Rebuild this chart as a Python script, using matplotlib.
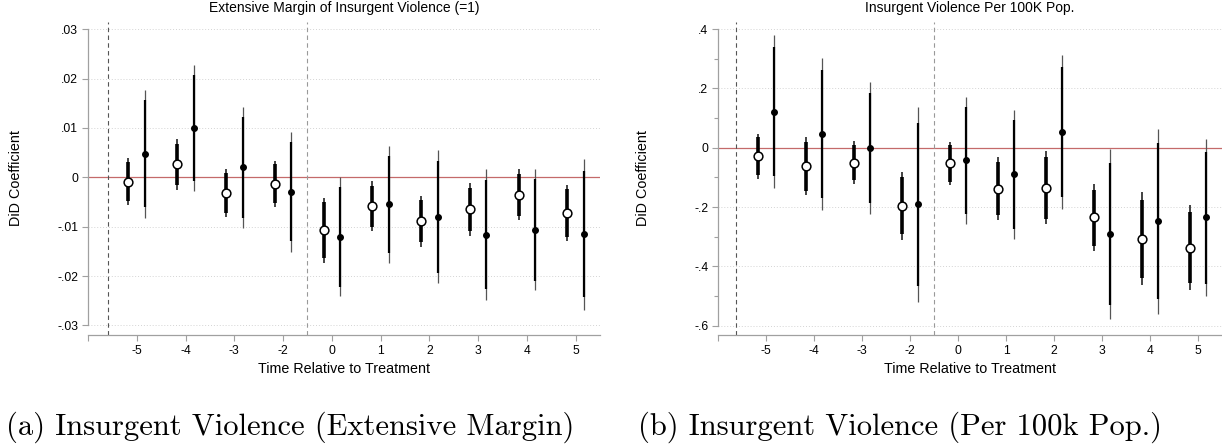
import numpy as np
import matplotlib as mpl
mpl.use('Agg')
import matplotlib.pyplot as plt

plt.rcParams['font.family'] = ['Liberation Sans', 'DejaVu Sans']

cats = ['-5', '-4', '-3', '-2', '0', '1', '2', '3', '4', '5']

# panel (a): extensive margin
a_open_b = [-0.0009, 0.0026, -0.0031, -0.00135, -0.0107, -0.0059, -0.0089, -0.0065, -0.0035, -0.0073]
a_open_hi90 = [0.0030, 0.0068, 0.0009, 0.0026, -0.0051, -0.0017, -0.0046, -0.0021, 0.0007, -0.0024]
a_open_lo90 = [-0.0049, -0.0016, -0.0072, -0.0053, -0.0163, -0.0100, -0.0132, -0.0109, -0.0078, -0.0121]
a_open_hi95 = [0.0039, 0.0077, 0.0017, 0.0033, -0.0041, -0.0007, -0.0037, -0.0011, 0.0016, -0.0016]
a_open_lo95 = [-0.0057, -0.0026, -0.0080, -0.0060, -0.0174, -0.0109, -0.0142, -0.0118, -0.0086, -0.0130]
a_fill_b = [0.0047, 0.0100, 0.0020, -0.0030, -0.0120, -0.0055, -0.0080, -0.0116, -0.0107, -0.0114]
a_fill_hi90 = [0.0156, 0.0207, 0.0122, 0.0072, -0.0019, 0.0044, 0.0034, -0.0005, -0.0003, 0.0013]
a_fill_lo90 = [-0.0061, -0.0007, -0.0083, -0.0130, -0.0222, -0.0154, -0.0193, -0.0227, -0.0210, -0.0242]
a_fill_hi95 = [0.0177, 0.0227, 0.0142, 0.0092, 0.0001, 0.0063, 0.0055, 0.0016, 0.0016, 0.0038]
a_fill_lo95 = [-0.0082, -0.0028, -0.0103, -0.0151, -0.0241, -0.0173, -0.0215, -0.0249, -0.0228, -0.0268]
a_yticks = [-0.03, -0.02, -0.01, 0, 0.01, 0.02, 0.03]
a_ylabels = ['-.03', '-.02', '-.01', '0', '.01', '.02', '.03']

# panel (b): per 100k pop
b_open_b = [-0.029, -0.061, -0.050, -0.195, -0.053, -0.139, -0.136, -0.235, -0.308, -0.337]
b_open_hi90 = [0.035, 0.020, 0.011, -0.098, 0.009, -0.048, -0.030, -0.141, -0.177, -0.216]
b_open_lo90 = [-0.092, -0.145, -0.109, -0.292, -0.115, -0.228, -0.239, -0.331, -0.439, -0.456]
b_open_hi95 = [0.046, 0.037, 0.023, -0.081, 0.020, -0.030, -0.011, -0.122, -0.150, -0.194]
b_open_lo95 = [-0.106, -0.161, -0.122, -0.312, -0.127, -0.245, -0.258, -0.348, -0.464, -0.479]
b_fill_b = [0.122, 0.047, -0.001, -0.190, -0.042, -0.089, 0.053, -0.292, -0.248, -0.235]
b_fill_hi90 = [0.339, 0.263, 0.185, 0.085, 0.139, 0.094, 0.274, -0.051, 0.015, -0.014]
b_fill_lo90 = [-0.095, -0.168, -0.188, -0.465, -0.222, -0.273, -0.166, -0.532, -0.510, -0.459]
b_fill_hi95 = [0.382, 0.304, 0.222, 0.137, 0.172, 0.128, 0.314, -0.005, 0.065, 0.030]
b_fill_lo95 = [-0.137, -0.210, -0.224, -0.519, -0.256, -0.308, -0.208, -0.578, -0.562, -0.501]
b_yticks = [-0.6, -0.4, -0.2, 0, 0.2, 0.4]
b_ylabels = ['-.6', '-.4', '-.2', '0', '.2', '.4']

x = np.arange(1, len(cats) + 1)
off = 0.17
axcol = '#a0a0a0'


def panel(ax, ob, ohi90, olo90, ohi95, olo95, fb, fhi90, flo90, fhi95, flo95,
          yticks, ylabels, ylim, title, vl1, ylab_x, minor=False):
    for yt in yticks:
        ax.axhline(yt, color='#d4d4d4', lw=0.7, ls=(0, (1, 2)), zorder=0)
    ax.axhline(0, color='#c46a6a', lw=0.9, zorder=1)
    ax.axvline(vl1, color='#555555', lw=0.8, ls=(0, (4, 3)), zorder=1)
    ax.axvline(4.5, color='#999999', lw=0.8, ls=(0, (4, 3)), zorder=1)

    xo = x - off
    ax.vlines(xo, olo95, ohi95, color='#222222', lw=1.2, zorder=2)
    ax.vlines(xo, olo90, ohi90, color='black', lw=2.6, zorder=3)
    ax.plot(xo, ob, 'o', ms=6.3, mfc='white', mec='black', mew=1.1, zorder=4)

    xf = x + off
    ax.vlines(xf, flo95, fhi95, color='#555555', lw=0.9, zorder=2)
    ax.vlines(xf, flo90, fhi90, color='black', lw=1.6, zorder=3)
    ax.plot(xf, fb, 'o', ms=4, mfc='black', mec='black', zorder=4)

    ax.set_xlim(0, 10.5)
    ax.set_ylim(*ylim)
    ax.set_xticks([0] + list(x))
    ax.set_xticklabels([''] + cats, fontsize=8.7)
    ax.set_yticks(yticks)
    ax.set_yticklabels(ylabels, fontsize=8.7)
    if minor:
        ax.set_yticks([(yticks[i] + yticks[i + 1]) / 2 for i in range(len(yticks) - 1)], minor=True)
        ax.tick_params(axis='y', which='minor', length=3, color=axcol, width=0.8)
    for s in ['top', 'right']:
        ax.spines[s].set_visible(False)
    ax.spines['left'].set_bounds(yticks[0], yticks[-1])
    for s in ['left', 'bottom']:
        ax.spines[s].set_color(axcol)
        ax.spines[s].set_linewidth(0.9)
    ax.tick_params(axis='both', which='major', length=4, color=axcol, width=0.8, pad=3)
    ax.set_xlabel('Time Relative to Treatment', fontsize=10.3, labelpad=4)
    ax.set_ylabel('DiD Coefficient', fontsize=10.4)
    ax.yaxis.set_label_coords(ylab_x, 0.5)
    ax.set_title(title, fontsize=10, pad=7)


fig = plt.figure(figsize=(12.22, 4.48), dpi=100)
ax1 = fig.add_axes([88 / 1222, 0.252, 512 / 1222, 0.700])
ax2 = fig.add_axes([718 / 1222, 0.252, 504 / 1222, 0.700])

panel(ax1, a_open_b, a_open_hi90, a_open_lo90, a_open_hi95, a_open_lo95,
      a_fill_b, a_fill_hi90, a_fill_lo90, a_fill_hi95, a_fill_lo95,
      a_yticks, a_ylabels, (-0.03196, 0.03155),
      'Extensive Margin of Insurgent Violence (=1)', 0.4, -0.127)
panel(ax2, b_open_b, b_open_hi90, b_open_lo90, b_open_hi95, b_open_lo95,
      b_fill_b, b_fill_hi90, b_fill_lo90, b_fill_hi95, b_fill_lo95,
      b_yticks, b_ylabels, (-0.632, 0.426),
      'Insurgent Violence Per 100K Pop.', 0.38, -0.135, minor=True)

fig.text(290 / 1222, 1 - 427 / 448, '(a) Insurgent Violence (Extensive Margin)',
         family='cmr10', fontsize=22, ha='center', va='center')
fig.text(900 / 1222, 1 - 427 / 448, '(b) Insurgent Violence (Per 100k Pop.)',
         family='cmr10', fontsize=22, ha='center', va='center')

plt.savefig('out.png', dpi=100)
